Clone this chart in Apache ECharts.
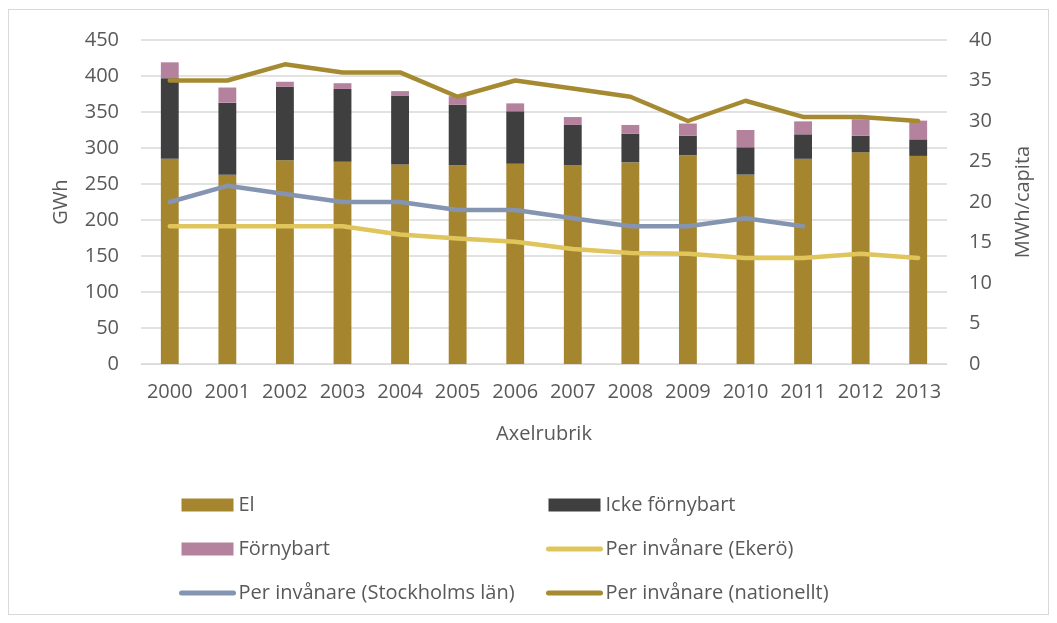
<!DOCTYPE html>
<html>
<head>
<meta charset="utf-8">
<script src="https://cdn.jsdelivr.net/npm/echarts@6/dist/echarts.min.js"></script>
<style>
html,body{margin:0;padding:0;background:#fff;}
#frame{position:absolute;left:8px;top:9px;width:1041px;height:606px;border:1px solid #d9d9d9;box-sizing:border-box;}
#chart{position:absolute;left:0;top:0;width:1057px;height:623px;}
</style>
</head>
<body>
<div id="frame"></div>
<div id="chart"></div>
<script>
const years = ['2000','2001','2002','2003','2004','2005','2006','2007','2008','2009','2010','2011','2012','2013'];
const el = [285, 263, 283, 281, 277, 276, 278, 276, 280, 290, 263, 285, 294, 289];
const ickeFornybart = [112, 100, 102, 101, 96, 84, 73, 56, 40, 27, 38, 34, 23, 23];
const fornybart = [22, 21, 7, 8, 6, 12, 11, 11, 12, 17, 24, 18, 23, 26];
const perEkero = [17, 17, 17, 17, 16, 15.5, 15.1, 14.2, 13.7, 13.6, 13.1, 13.1, 13.6, 13.1];
const perStockholm = [20, 22, 21, 20, 20, 19, 19, 18, 17, 17, 18, 17, null, null];
const perNationellt = [35, 35, 37, 36, 36, 33, 35, 34, 33, 30, 32.5, 30.5, 30.5, 30];
const leftTicks = {min: 0, max: 450, interval: 50};
const rightTicks = {min: 0, max: 40, interval: 5};

const txt = '#595959';
const font = '"Open Sans", "Liberation Sans", sans-serif';
const chart = echarts.init(document.getElementById('chart'));
const lineS = (name, data, color) => ({
  name, type: 'line', yAxisIndex: 1, data, symbol: 'none', smooth: false,
  lineStyle: {color, width: 4.5, cap: 'round', join: 'round'}, itemStyle: {color},
  connectNulls: false, z: 3
});
const barItem = name => ({name, icon: 'rect'});
const lineItem = name => ({name, itemStyle: {opacity: 0}, lineStyle: {width: 5, cap: 'round'}});
const legendCommon = {
  orient: 'vertical', itemWidth: 52, itemHeight: 13, itemGap: 24, padding: 0,
  textStyle: {color: txt, fontSize: 20, fontFamily: font}, selectedMode: false
};
chart.setOption({
  animation: false,
  textStyle: {fontFamily: font},
  grid: {left: 141, right: 110, top: 40, bottom: 259},
  legend: [
    Object.assign({left: 179, top: 495, data: [barItem('El'), barItem('Förnybart'), lineItem('Per invånare (Stockholms län)')]}, legendCommon),
    Object.assign({left: 546, top: 495, data: [barItem('Icke förnybart'), lineItem('Per invånare (Ekerö)'), lineItem('Per invånare (nationellt)')]}, legendCommon)
  ],
  xAxis: {
    type: 'category', data: years,
    name: 'Axelrubrik', nameLocation: 'middle', nameGap: 60,
    nameTextStyle: {color: txt, fontSize: 20, fontFamily: font},
    axisLine: {show: true, lineStyle: {color: '#d9d9d9', width: 1}},
    axisTick: {show: false},
    axisLabel: {color: txt, fontSize: 20, fontFamily: font, margin: 18, interval: 0}
  },
  yAxis: [
    {
      type: 'value', min: leftTicks.min, max: leftTicks.max, interval: leftTicks.interval,
      name: 'GWh', nameLocation: 'middle', nameGap: 70, nameRotate: 90,
      nameTextStyle: {color: txt, fontSize: 20, fontFamily: font},
      axisLine: {show: false}, axisTick: {show: false},
      axisLabel: {color: txt, fontSize: 20, fontFamily: font, margin: 22},
      splitLine: {lineStyle: {color: '#d9d9d9', width: 1.5}}
    },
    {
      type: 'value', min: rightTicks.min, max: rightTicks.max, interval: rightTicks.interval,
      name: 'MWh/capita', nameLocation: 'middle', nameGap: 66, nameRotate: 90,
      nameTextStyle: {color: txt, fontSize: 20, fontFamily: font},
      axisLine: {show: false}, axisTick: {show: false},
      axisLabel: {color: txt, fontSize: 20, fontFamily: font, margin: 22},
      splitLine: {show: false}
    }
  ],
  series: [
    {name: 'El', type: 'bar', stack: 'a', data: el, barWidth: '31%', itemStyle: {color: '#a5862f'}},
    {name: 'Icke förnybart', type: 'bar', stack: 'a', data: ickeFornybart, itemStyle: {color: '#3f3f40'}},
    {name: 'Förnybart', type: 'bar', stack: 'a', data: fornybart, itemStyle: {color: '#b5829e'}},
    lineS('Per invånare (Ekerö)', perEkero, '#dfc55b'),
    lineS('Per invånare (Stockholms län)', perStockholm, '#8595b1'),
    lineS('Per invånare (nationellt)', perNationellt, '#a68a32')
  ]
});
</script>
</body>
</html>
